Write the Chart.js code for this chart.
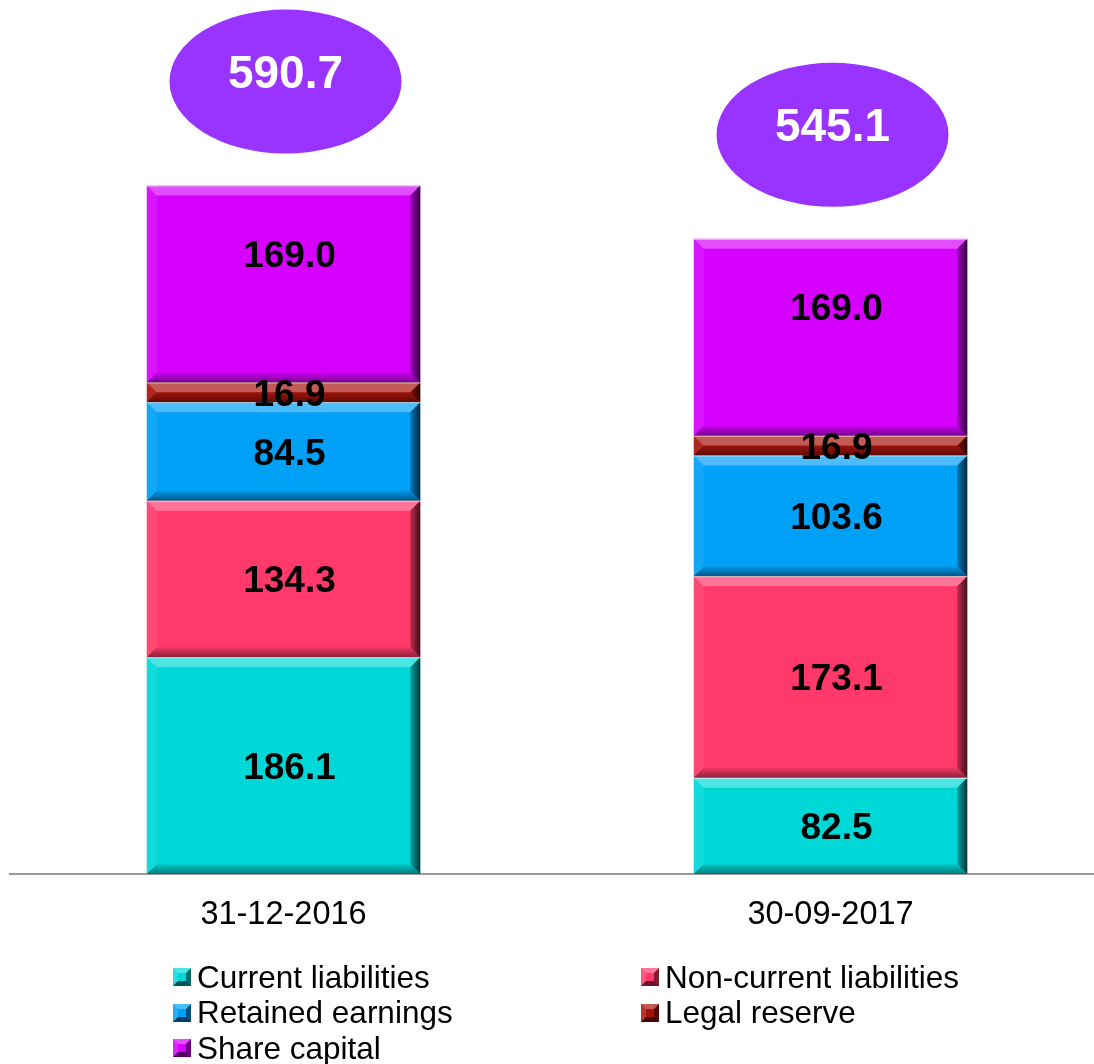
<!DOCTYPE html>
<html>
<head>
<meta charset="utf-8">
<script src="https://cdn.jsdelivr.net/npm/chart.js@4"></script>
<style>
    body { margin: 0; background: #fff; overflow: hidden; font-family: "Liberation Sans", Arial, sans-serif; }
    #wrap { position: relative; width: 1104px; height: 966px; }
    #legend { position: absolute; left: 0; top: 0; width: 1094px; height: 1064px; pointer-events: none; }
    .item { position: absolute; display: flex; align-items: center; height: 36px; font-size: 31.5px; color: #000; white-space: nowrap; }
    .swatch { width: 18px; height: 18px; box-sizing: border-box; border: 5px solid; margin-right: 6px; }
</style>
</head>
<body>
<div id="wrap"><canvas id="chart" width="1104" height="966"></canvas></div>
<div id="legend"></div>
<script>
const categories = ['31-12-2016', '30-09-2017'];
const seriesNames = ['Current liabilities', 'Non-current liabilities', 'Retained earnings', 'Legal reserve', 'Share capital'];
const currentLiabilities = [186.1, 82.5];
const nonCurrentLiabilities = [134.3, 173.1];
const retainedEarnings = [84.5, 103.6];
const legalReserve = [16.9, 16.9];
const shareCapital = [169.0, 169.0];
const totals = [590.7, 545.1];

const seriesValues = [currentLiabilities, nonCurrentLiabilities, retainedEarnings, legalReserve, shareCapital];
const colors = ['#00D8D8', '#FF3A6A', '#00A0F6', '#A8140C', '#D600FF'];

// bevelled look for each bar segment + value labels
const bevelPlugin = {
    id: 'bevel',
    afterDatasetsDraw(chart) {
        const ctx = chart.ctx;
        ctx.save();
        chart.data.datasets.forEach((ds, di) => {
            chart.getDatasetMeta(di).data.forEach(bar => {
                const p = bar.getProps(['x', 'y', 'base', 'width'], true);
                const L = p.x - p.width / 2, R = p.x + p.width / 2;
                const T = Math.min(p.y, p.base), B = Math.max(p.y, p.base);
                const b = Math.min(10, (B - T) / 2);

                ctx.fillStyle = 'rgba(255,255,255,0.3)';
                ctx.beginPath();
                ctx.moveTo(L, T); ctx.lineTo(R, T); ctx.lineTo(R - b, T + b); ctx.lineTo(L + b, T + b);
                ctx.closePath(); ctx.fill();

                ctx.fillStyle = 'rgba(255,255,255,0.08)';
                ctx.beginPath();
                ctx.moveTo(L, T); ctx.lineTo(L + b, T + b); ctx.lineTo(L + b, B - b); ctx.lineTo(L, B);
                ctx.closePath(); ctx.fill();

                let g = ctx.createLinearGradient(R - b - 4, 0, R, 0);
                g.addColorStop(0, 'rgba(0,0,0,0.05)');
                g.addColorStop(1, 'rgba(0,0,0,0.75)');
                ctx.fillStyle = g;
                ctx.beginPath();
                ctx.moveTo(R, T); ctx.lineTo(R, B); ctx.lineTo(R - b, B - b); ctx.lineTo(R - b, T + b);
                ctx.closePath(); ctx.fill();

                g = ctx.createLinearGradient(0, B - b, 0, B);
                g.addColorStop(0, 'rgba(0,0,0,0.05)');
                g.addColorStop(1, 'rgba(0,0,0,0.45)');
                ctx.fillStyle = g;
                ctx.beginPath();
                ctx.moveTo(L, B); ctx.lineTo(R, B); ctx.lineTo(R - b, B - b); ctx.lineTo(L + b, B - b);
                ctx.closePath(); ctx.fill();

                ctx.strokeStyle = 'rgba(255,255,255,0.6)';
                ctx.lineWidth = 1;
                ctx.beginPath();
                ctx.moveTo(L, T + 0.5); ctx.lineTo(R, T + 0.5);
                ctx.stroke();
            });
        });

        ctx.font = 'bold 37px "Liberation Sans", Arial, sans-serif';
        ctx.fillStyle = '#000';
        ctx.textAlign = 'center';
        ctx.textBaseline = 'middle';
        chart.data.datasets.forEach((ds, di) => {
            chart.getDatasetMeta(di).data.forEach((bar, i) => {
                const p = bar.getProps(['x', 'y', 'base'], true);
                const cy = (p.y + p.base) / 2 + (ds.labelShift || 0);
                ctx.fillText(ds.data[i].toFixed(1), p.x + 6, cy + 3);
            });
        });
        ctx.restore();
    },
    afterDraw(chart) {
        const ctx = chart.ctx;
        const last = chart.getDatasetMeta(chart.data.datasets.length - 1);
        ctx.save();
        last.data.forEach((bar, i) => {
            const cx = bar.x + 2, cy = bar.y - 104;
            ctx.fillStyle = '#9933FF';
            ctx.beginPath();
            ctx.ellipse(cx, cy, 116, 72, 0, 0, Math.PI * 2);
            ctx.fill();
            ctx.fillStyle = '#fff';
            ctx.font = 'bold 46px "Liberation Sans", Arial, sans-serif';
            ctx.textAlign = 'center';
            ctx.textBaseline = 'middle';
            ctx.fillText(totals[i].toFixed(1), cx, cy - 6);
        });
        ctx.restore();
    }
};

const ctx = document.getElementById('chart').getContext('2d');
new Chart(ctx, {
    type: 'bar',
    data: {
        labels: categories,
        datasets: seriesValues.map((vals, i) => ({
            label: seriesNames[i],
            data: vals,
            backgroundColor: colors[i],
            borderWidth: 0,
            categoryPercentage: 1,
            barPercentage: 0.5,
            labelShift: i === 4 ? -30 : 0
        }))
    },
    options: {
        responsive: false,
        animation: false,
        layout: { padding: { left: 10, right: 0, top: 0, bottom: 9 } },
        plugins: { legend: { display: false }, tooltip: { enabled: false } },
        scales: {
            x: {
                stacked: true,
                grid: { display: false, drawTicks: false },
                border: { display: true, color: '#999', width: 2 },
                ticks: {
                    color: '#000',
                    padding: 22,
                    font: { size: 32.5, family: '"Liberation Sans", Arial, sans-serif' }
                }
            },
            y: {
                stacked: true,
                display: false,
                min: 0,
                max: 750
            }
        }
    },
    plugins: [bevelPlugin]
});

// legend, two columns
const legend = document.getElementById('legend');
seriesNames.forEach((name, i) => {
    const col = i % 2, row = Math.floor(i / 2);
    const item = document.createElement('div');
    item.className = 'item';
    item.style.left = (col === 0 ? 173 : 641) + 'px';
    item.style.top = (977 + row * 35.5 - 18) + 'px';
    const sw = document.createElement('div');
    sw.className = 'swatch';
    sw.style.background = colors[i];
    sw.style.borderColor = `color-mix(in srgb, ${colors[i]} 70%, white) color-mix(in srgb, ${colors[i]} 50%, black) color-mix(in srgb, ${colors[i]} 40%, black) color-mix(in srgb, ${colors[i]} 85%, white)`;
    item.appendChild(sw);
    item.appendChild(document.createTextNode(name));
    legend.appendChild(item);
});
</script>
</body>
</html>
